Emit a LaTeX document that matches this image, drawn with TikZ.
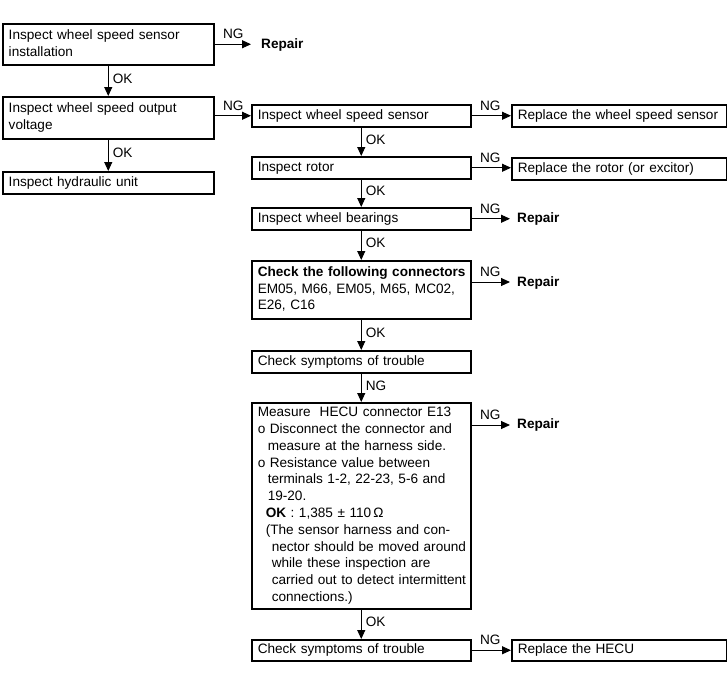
\documentclass[tikz,border=0pt]{standalone}
\usepackage{fontspec}
\setmainfont{Liberation Sans}
\usetikzlibrary{arrows.meta}
\newcommand\boxlines[1]{\begin{tabular}{@{}l@{}}#1\end{tabular}}
\begin{document}
\begin{tikzpicture}[x=1pt,y=-1pt,
  every node/.style={font=\fontsize{13.6}{16.8}\selectfont},
  box/.style={draw, line width=1.5pt, anchor=north west, inner xsep=6pt, inner ysep=0pt, align=left},
  lbox/.style={box, minimum width=211pt, text width=199pt},
  rbox/.style={box, minimum width=219pt, text width=207pt},
  xbox/.style={box, minimum width=215pt, text width=203pt},
  arr/.style={line width=1pt, -{Triangle[length=9pt,width=8pt]}},
  rep/.style={inner sep=0pt, anchor=west, font=\fontsize{13.6}{16.8}\selectfont\bfseries},
  nglbl/.style={pos=0, anchor=south west, inner sep=0pt, xshift=8pt, yshift=5pt},
  oklbl/.style={midway, anchor=west, inner sep=0pt, xshift=4pt, yshift=2pt}
]
\useasboundingbox (0,0) rectangle (727,683);

% left column
\node[lbox, minimum height=41pt] (b1) at (2,23) {\boxlines{Inspect wheel speed sensor\\installation}};
\node[lbox, minimum height=42pt] (b2) at (2,96) {\boxlines{Inspect wheel speed output\\voltage}};
\node[lbox, minimum height=22pt] (b3) at (2,171) {\boxlines{Inspect hydraulic unit}};
\node[rep] (rep1) at (261,45) {Repair};

% middle column
\node[rbox, minimum height=22pt] (s1) at (251,104) {\boxlines{Inspect wheel speed sensor}};
\node[rbox, minimum height=22pt] (s2) at (251,156) {\boxlines{Inspect rotor}};
\node[rbox, minimum height=22pt] (s3) at (251,207) {\boxlines{Inspect wheel bearings}};
\node[rbox, minimum height=58pt] (s4) at (251,260) {\boxlines{\textbf{Check the following connectors}\\EM05, M66, EM05, M65, MC02,\\E26, C16}};
\node[rbox, minimum height=22pt] (s5) at (251,350) {\boxlines{Check symptoms of trouble}};
\node[rbox, minimum height=206pt] (s6) at (251,402) {\boxlines{Measure\ \ HECU connector E13\\
o Disconnect the connector and\\
\hspace*{10pt}measure at the harness side.\\
o Resistance value between\\
\hspace*{10pt}terminals 1-2, 22-23, 5-6 and\\
\hspace*{10pt}19-20.\\
\hspace*{8pt}\textbf{OK} :\ 1,385 ± 110\,Ω\\
\hspace*{8pt}(The sensor harness and con-\\
\hspace*{14pt}nector should be moved around\\
\hspace*{14pt}while these inspection are\\
\hspace*{14pt}carried out to detect intermittent\\
\hspace*{14pt}connections.)}};
\node[rbox, minimum height=21pt] (s7) at (251,639) {\boxlines{Check symptoms of trouble}};

% right column
\node[xbox, minimum height=22pt] (r1) at (511,104) {\boxlines{Replace the wheel speed sensor}};
\node[xbox, minimum height=22pt] (r2) at (511,157) {\boxlines{Replace the rotor (or excitor)}};
\node[rep] (rep3) at (517,219) {Repair};
\node[rep] (rep4) at (517,283) {Repair};
\node[rep] (rep6) at (517,425) {Repair};
\node[xbox, minimum height=21pt] (r7) at (511,639) {\boxlines{Replace the HECU}};

% vertical arrows
\draw[arr] (b1) -- node[oklbl]{OK} (b2);
\draw[arr] (b2) -- node[oklbl]{OK} (b3);
\draw[arr] (s1) -- node[oklbl]{OK} (s2);
\draw[arr] (s2) -- node[oklbl]{OK} (s3);
\draw[arr] (s3) -- node[oklbl]{OK} (s4);
\draw[arr] (s4) -- node[oklbl]{OK} (s5);
\draw[arr] (s5) -- node[oklbl]{NG} (s6);
\draw[arr] (s6) -- node[oklbl]{OK} (s7);

% horizontal arrows
\draw[arr] (b1.east) -- node[nglbl]{NG} ([xshift=-10pt]rep1.west |- b1.east);
\draw[arr] (b2.east |- s1.west) -- node[nglbl]{NG} (s1.west);
\draw[arr] (s1.east) -- node[nglbl]{NG} (r1.west |- s1.east);
\draw[arr] (s2.east) -- node[nglbl]{NG} (r2.west |- s2.east);
\draw[arr] (s3.east) -- node[nglbl]{NG} ([xshift=-7pt]rep3.west |- s3.east);
\draw[arr] ([yshift=-22pt]s4.north east) -- node[nglbl]{NG} ([xshift=-7pt]rep4.west |- 0,282);
\draw[arr] ([yshift=-23pt]s6.north east) -- node[nglbl]{NG} ([xshift=-7pt]rep6.west |- 0,425);
\draw[arr] (s7.east) -- node[nglbl]{NG} (r7.west |- s7.east);
\end{tikzpicture}
\end{document}
